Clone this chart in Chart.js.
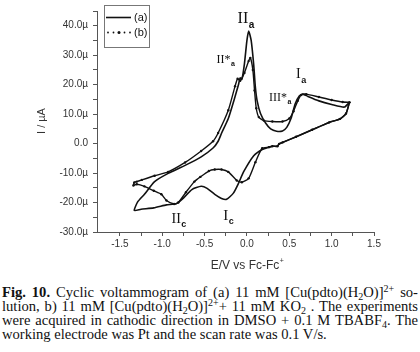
<!DOCTYPE html>
<html>
<head>
<meta charset="utf-8">
<script src="https://cdn.jsdelivr.net/npm/chart.js@4.4.1/dist/chart.umd.min.js"></script>
<style>
html,body{margin:0;padding:0;background:#fff;width:420px;height:352px;overflow:hidden}
#plot{position:absolute;left:0;top:0}
#cap{position:absolute;left:2px;top:285px;width:416px;font-family:"Liberation Serif",serif;font-size:14.6px;line-height:14px;color:#111}
#cap div{text-align:justify;text-align-last:justify}
#cap div.last{text-align-last:left}
#cap sub,#cap sup{font-size:10px;line-height:0;vertical-align:baseline;position:relative}
#cap sub{top:3px}
#cap sup{top:-5px}
</style>
</head>
<body>
<canvas id="plot" width="420" height="270"></canvas>
<div id="cap">
<div><b>Fig. 10.</b> Cyclic voltammogram of (a) 11 mM [Cu(pdto)(H<sub>2</sub>O)]<sup>2+</sup> so-</div>
<div>lution, b) 11 mM [Cu(pdto)(H<sub>2</sub>O)]<sup>2+</sup>+ 11 mM KO<sub>2</sub> . The experiments</div>
<div>were acquired in cathodic direction in DMSO + 0.1 M TBABF<sub>4</sub>. The</div>
<div class="last">working electrode was Pt and the scan rate was 0.1 V/s.</div>
</div>
<script>
// curve (a): potential (V) and current (uA), scan starts at the anodic vertex going cathodic
const aE = [1.21, 1.17, 1.10, 0.97, 0.77, 0.58, 0.42, 0.38, 0.36, 0.30, 0.26, 0.18, 0.08, -0.04, -0.10,
  -0.16, -0.24, -0.30, -0.38, -0.47, -0.54, -0.65, -0.75, -0.83, -0.95, -1.10, -1.25, -1.33, -1.29, -1.21,
  -1.09, -0.93, -0.73, -0.54, -0.40, -0.34, -0.30, -0.22, -0.15, -0.10, -0.08, -0.06, -0.03, 0.00, 0.02,
  0.05, 0.08, 0.10, 0.12, 0.16, 0.22, 0.28, 0.35, 0.42, 0.47, 0.52, 0.57, 0.62, 0.66, 0.72, 0.85, 1.00, 1.15, 1.21];
const aI = [14.0, 10.2, 8.4, 7.2, 4.7, 2.3, 0.4, -0.1, -0.9, -0.9, -1.2, -2.0, -4.1, -9.6, -13.5,
  -16.8, -18.9, -18.6, -17.2, -15.2, -14.5, -15.6, -18.5, -20.3, -20.8, -21.8, -22.3, -22.7, -19.8, -17.2,
  -12.9, -10.1, -7.4, -4.5, -1.5, 0.8, 3.5, 8.5, 15.0, 20.0, 22.3, 21.8, 27.0, 35.0, 38.2,
  35.0, 26.7, 19.0, 14.6, 10.2, 7.0, 5.0, 4.2, 4.3, 5.5, 8.5, 13.5, 16.2, 16.8, 16.0, 14.5, 13.3, 12.4, 14.0];

// curve (b): with KO2
const bE = [1.21, 1.17, 1.10, 0.97, 0.77, 0.58, 0.42, 0.38, 0.36, 0.30, 0.26, 0.18, 0.10, 0.02, -0.06,
  -0.12, -0.22, -0.30, -0.38, -0.45, -0.55, -0.62, -0.72, -0.81, -0.86, -0.95, -1.01, -1.10, -1.21, -1.30,
  -1.34, -1.33, -1.30, -1.24, -1.09, -0.93, -0.73, -0.54, -0.40, -0.34, -0.22, -0.14, -0.11, -0.08, -0.03,
  0.02, 0.04, 0.07, 0.09, 0.11, 0.14, 0.20, 0.30, 0.42, 0.50, 0.55, 0.60, 0.64, 0.70, 0.85, 1.00, 1.13, 1.21];
const bI = [14.0, 10.2, 8.4, 7.2, 4.7, 2.3, 0.4, -0.1, -0.9, -0.9, -1.2, -1.6, -6.3, -11.8, -13.1,
  -12.5, -9.6, -8.8, -8.8, -9.3, -11.3, -12.9, -16.5, -20.0, -20.5, -19.3, -17.2, -16.0, -14.5, -13.8,
  -14.2, -13.2, -12.9, -12.3, -10.9, -9.6, -6.4, -2.5, 0.8, 3.6, 11.3, 19.5, 22.0, 21.3, 24.0,
  28.0, 29.1, 25.0, 18.0, 12.0, 9.0, 7.8, 7.5, 7.5, 8.5, 11.0, 14.5, 16.5, 16.8, 15.8, 14.8, 14.1, 14.0];

const seriesNames = ['(a)', '(b)'];

const xTicks = [-1.5, -1.25, -1.0, -0.75, -0.5, -0.25, 0.0, 0.25, 0.5, 0.75, 1.0, 1.25, 1.5];
const yTicks = [-30, -25, -20, -15, -10, -5, 0, 5, 10, 15, 20, 25, 30, 35, 40, 45];

// peak labels, anchored at (E, I)
const peakText = ['II', 'II*', 'III*', 'I', 'I', 'II'];
const peakSub = ['a', 'a', 'a', 'a', 'c', 'c'];
const peakE = [-0.11, -0.36, 0.26, 0.58, -0.28, -0.89];
const peakI = [40.9, 27.5, 14.5, 22.1, -25.8, -26.9];

function pts(E, I){
  return E.map((e, i) => ({x: e, y: I[i]}));
}

const peakSize = [16, 12, 12, 14, 15, 14];

const overlay = {
  id: 'overlay',
  afterDraw(chart){
    const {ctx, chartArea, scales} = chart;
    ctx.save();
    ctx.fillStyle = '#111';

    /* peak labels */
    ctx.textBaseline = 'alphabetic';
    ctx.textAlign = 'left';
    peakText.forEach((t, i) => {
      const px = scales.x.getPixelForValue(peakE[i]);
      const py = scales.y.getPixelForValue(peakI[i]);
      ctx.font = peakSize[i] + 'px "Liberation Serif"';
      ctx.fillText(t, px, py);
      const w = ctx.measureText(t).width;
      ctx.font = 'bold ' + Math.round(peakSize[i] * 0.62) + 'px "Liberation Sans"';
      ctx.fillText(peakSub[i], px + w + 0.5, py + peakSize[i] * 0.3);
    });

    /* axis titles */
    ctx.fillStyle = '#333';
    ctx.font = '12px "Liberation Sans"';
    ctx.textBaseline = 'middle';
    const xt = 'E/V vs Fc-Fc';
    const xw = ctx.measureText(xt).width;
    const xc = 245, yc = 266;
    ctx.fillText(xt, xc - xw / 2, yc);
    ctx.font = '7px "Liberation Sans"';
    ctx.fillText('+', xc + xw / 2 + 0.5, yc - 5);
    ctx.save();
    ctx.translate(42, 121);
    ctx.rotate(-Math.PI / 2);
    ctx.font = '11px "Liberation Sans"';
    ctx.textAlign = 'center';
    ctx.fillText('I / \u00b5A', 0, 0);
    ctx.restore();

    /* legend box */
    const lx = chartArea.left + 7, ly = chartArea.top - 6;
    ctx.strokeStyle = '#777';
    ctx.lineWidth = 1;
    ctx.strokeRect(lx + 0.5, ly + 0.5, 45, 42);
    ctx.strokeStyle = '#111';
    ctx.fillStyle = '#111';
    ctx.lineWidth = 1.6;
    ctx.beginPath();
    ctx.moveTo(lx + 2, ly + 12.5);
    ctx.lineTo(lx + 27, ly + 12.5);
    ctx.stroke();
    for (let k = 0; k < 5; k++){
      const r = k === 2 ? 1.5 : 0.9;
      ctx.beginPath();
      ctx.arc(lx + 4 + k * 5.5, ly + 27.5, r, 0, Math.PI * 2);
      ctx.fill();
    }
    ctx.font = '11px "Liberation Sans"';
    ctx.textBaseline = 'middle';
    ctx.fillText(seriesNames[0], lx + 30, ly + 12.5);
    ctx.fillText(seriesNames[1], lx + 30, ly + 27.5);
    ctx.restore();
  }
};

new Chart(document.getElementById('plot'), {
  type: 'scatter',
  data: {
    datasets: [{
      label: seriesNames[0],
      data: pts(aE, aI),
      showLine: true,
      borderColor: '#111',
      borderWidth: 1.6,
      pointRadius: 0,
      tension: 0.2
    }, {
      label: seriesNames[1],
      data: pts(bE, bI),
      showLine: true,
      borderColor: '#111',
      borderWidth: 1.4,
      pointRadius: 1.2,
      pointBackgroundColor: '#111',
      pointBorderWidth: 0,
      tension: 0.2
    }]
  },
  options: {
    responsive: false,
    animation: false,
    layout: {padding: {left: 0, right: 46, top: 5, bottom: 0}},
    plugins: {legend: {display: false}, tooltip: {enabled: false}},
    scales: {
      x: {
        type: 'linear',
        min: -1.77,
        max: 1.5,
        afterBuildTicks: s => { s.ticks = xTicks.map(v => ({value: v})); },
        afterFit: s => { s.height = 38; },
        grid: {drawOnChartArea: false, tickLength: 4, tickColor: '#555'},
        border: {color: '#555', width: 1},
        ticks: {
          color: '#333',
          font: {family: 'Liberation Sans', size: 10},
          padding: 2,
          maxRotation: 0,
          autoSkip: false,
          callback: v => Math.abs(v * 2 - Math.round(v * 2)) < 1e-6 ? v.toFixed(1) : ''
        }
      },
      y: {
        type: 'linear',
        min: -30,
        max: 45,
        afterBuildTicks: s => { s.ticks = yTicks.map(v => ({value: v})); },
        afterFit: s => { s.width = 97; },
        grid: {drawOnChartArea: false, tickLength: 4, tickColor: '#555'},
        border: {color: '#555', width: 1},
        ticks: {
          color: '#333',
          font: {family: 'Liberation Sans', size: 10},
          padding: 5,
          autoSkip: false,
          callback: v => v % 10 !== 0 ? '' : (v === 0 ? '0.0' : v.toFixed(1) + '\u00b5')
        }
      }
    }
  },
  plugins: [overlay]
});
</script>
</body>
</html>
